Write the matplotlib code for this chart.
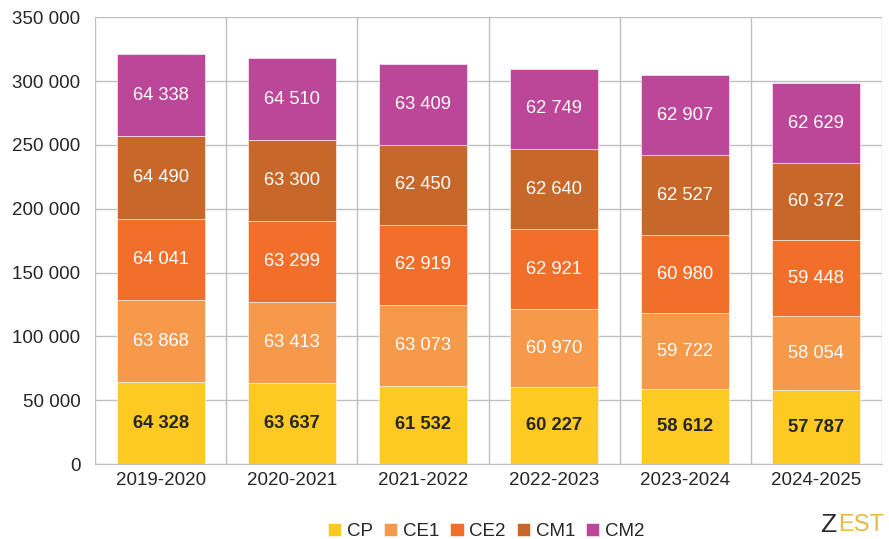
import matplotlib
matplotlib.use("Agg")
import matplotlib.pyplot as plt
import numpy as np

plt.rcParams['font.family'] = ['Liberation Sans', 'DejaVu Sans']

years = ["2019-2020", "2020-2021", "2021-2022", "2022-2023", "2023-2024", "2024-2025"]
series_names = ["CP", "CE1", "CE2", "CM1", "CM2"]
cp = [64328, 63637, 61532, 60227, 58612, 57787]
ce1 = [63868, 63413, 63073, 60970, 59722, 58054]
ce2 = [64041, 63299, 62919, 62921, 60980, 59448]
cm1 = [64490, 63300, 62450, 62640, 62527, 60372]
cm2 = [64338, 64510, 63409, 62749, 62907, 62629]
colors = ["#FDC923", "#F7994A", "#F26E2B", "#C7682A", "#BC4698"]

def fmt(v):
    return f"{v:,}".replace(",", " ")

fig = plt.figure(figsize=(8.89, 5.39), dpi=100)
ax = fig.add_axes([0.107, 0.139, 0.885, 0.829])

x = np.arange(len(years))
bottom = np.zeros(len(years))
for i, (name, vals, col) in enumerate(zip(series_names, [cp, ce1, ce2, cm1, cm2], colors)):
    vals = np.array(vals, dtype=float)
    ax.bar(x, vals, width=0.67, bottom=bottom, color=col, label=name, zorder=3,
           edgecolor="white", linewidth=0.4)
    for xi, b, v in zip(x, bottom, vals):
        if i == 0:
            ax.text(xi, b + v / 2, fmt(int(v)), ha="center", va="center", fontsize=13.2,
                    fontweight="bold", color="#262626", zorder=4)
        else:
            ax.text(xi, b + v / 2, fmt(int(v)), ha="center", va="center", fontsize=13.2,
                    color="white", zorder=4)
    bottom += vals

ax.set_xlim(-0.5, len(years) - 0.5)
ax.set_ylim(0, 350000)
ax.set_yticks(np.arange(0, 350001, 50000))
ax.set_yticklabels([fmt(v) for v in range(0, 350001, 50000)])
ax.set_xticks(x)
ax.set_xticklabels(years)
ax.tick_params(axis="both", labelsize=13.5, length=0, colors="#262626")
ax.tick_params(axis="x", pad=6)
ax.tick_params(axis="y", pad=10.5)

# Horizontal gridlines plus vertical separators between categories
ax.yaxis.grid(True, color="#BFBFBF", linewidth=1, zorder=0)
for b in np.arange(-0.5, len(years), 1.0):
    ax.axvline(b, color="#BFBFBF", linewidth=1, zorder=0)
for s in ax.spines.values():
    s.set_visible(False)
ax.spines["bottom"].set_visible(True)
ax.spines["bottom"].set_color("#BFBFBF")

handles, labels = ax.get_legend_handles_labels()
fig.legend(handles, labels, loc="center", bbox_to_anchor=(0.547, 0.014), ncol=5,
           frameon=False, fontsize=13.5, handlelength=0.7, handleheight=0.7,
           handletextpad=0.3, columnspacing=0.6, labelcolor="#262626")

# Logo mark in the lower right corner
fig.text(0.941, 0.026, "Z", ha="right", va="center", fontsize=19,
         color="#2B2B2B")
fig.text(0.943, 0.026, "EST", ha="left", va="center", fontsize=17,
         color="#E8B84A")

fig.savefig("out.png", dpi=100, facecolor="white")
